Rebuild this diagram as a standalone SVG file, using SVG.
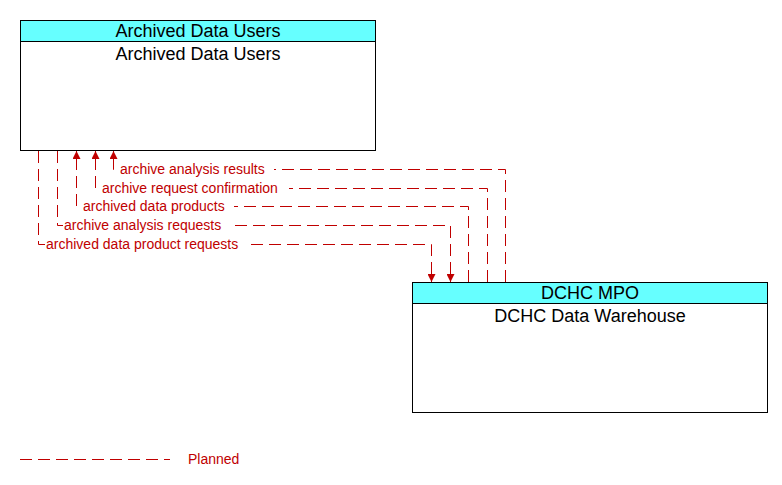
<svg xmlns="http://www.w3.org/2000/svg" width="782" height="485" viewBox="0 0 782 485">
<style>
.box{fill:#fff;stroke:#000;stroke-width:1}
.hdr{fill:#66ffff;stroke:#000;stroke-width:1}
.t{font-family:"Liberation Sans",Arial,sans-serif;font-size:18px;fill:#000;text-anchor:middle}
.c{fill:none;stroke:#c00000;stroke-width:1;stroke-dasharray:12,6}
.l{font-family:"Liberation Sans",Arial,sans-serif;font-size:14px;fill:#c00000}
.bg{fill:#fff}
</style>
<defs>
<marker id="a" viewBox="0 0 10 10" refX="10" refY="5" markerWidth="8" markerHeight="8" orient="auto" markerUnits="userSpaceOnUse">
<path d="M0,0L10,5L0,10z" fill="#c00000"/>
</marker>
</defs>
<rect width="782" height="485" fill="#fff"/>
<g id="archived-data-users">
<rect class="box" x="20.5" y="20.5" width="355" height="130"/>
<rect class="hdr" x="20.5" y="20.5" width="355" height="21"/>
<text class="t" x="198" y="37">Archived Data Users</text>
<text class="t" x="198" y="60">Archived Data Users</text>
</g>
<g id="dchc-mpo">
<rect class="box" x="412.5" y="282.5" width="355" height="130"/>
<rect class="hdr" x="412.5" y="282.5" width="355" height="21"/>
<text class="t" x="590" y="299">DCHC MPO</text>
<text class="t" x="590" y="322">DCHC Data Warehouse</text>
</g>
<g id="connectors">
<path class="c" d="M505.5,282V169.5H113.5V151" marker-end="url(#a)"/>
<path class="c" d="M487.5,282V188.5H95.5V151" marker-end="url(#a)"/>
<path class="c" d="M468.5,282V206.5H76.5V151" marker-end="url(#a)"/>
<path class="c" d="M57.5,151V225.5H450.5V282" marker-end="url(#a)"/>
<path class="c" d="M38.5,151V244.5H431.5V282" marker-end="url(#a)"/>
<rect class="bg" x="119" y="162" width="155" height="15"/>
<text class="l" x="120" y="174">archive analysis results</text>
<rect class="bg" x="101" y="181" width="188" height="15"/>
<text class="l" x="102" y="193">archive request confirmation</text>
<rect class="bg" x="82" y="199" width="152" height="15"/>
<text class="l" x="83" y="211">archived data products</text>
<rect class="bg" x="63" y="218" width="168" height="15"/>
<text class="l" x="64" y="230">archive analysis requests</text>
<rect class="bg" x="45" y="237" width="205" height="15"/>
<text class="l" x="46" y="249">archived data product requests</text>
</g>
<g id="legend">
<path class="c" d="M20,459.5H170"/>
<text class="l" x="188" y="464">Planned</text>
</g>
</svg>
